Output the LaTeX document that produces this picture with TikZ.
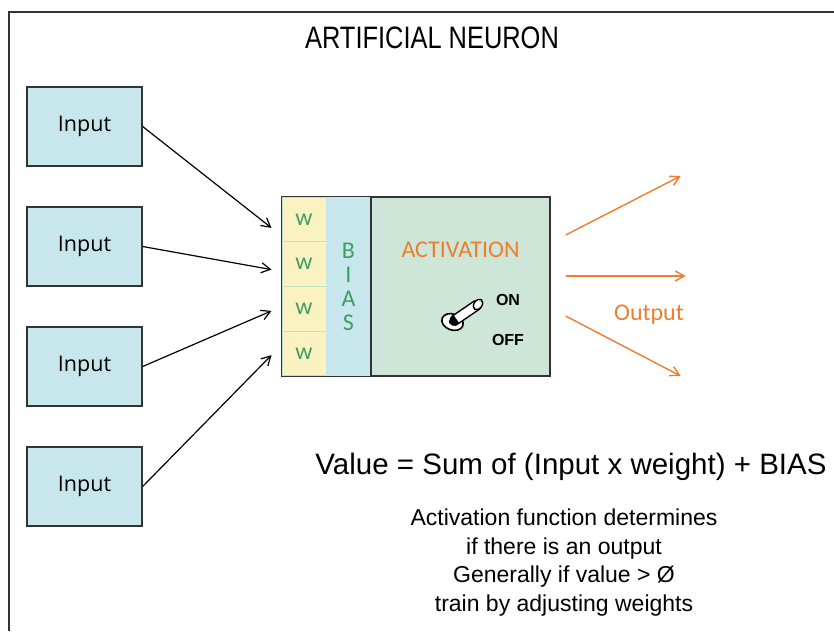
\documentclass[tikz,border=0pt]{standalone}
\usepackage{fontspec}
\setmainfont{Liberation Sans}
\newfontfamily\titlefont[FakeStretch=0.82]{Liberation Sans}
\newfontfamily\calib{Carlito}
\newfontfamily\opens{Open Sans}
\usetikzlibrary{arrows.meta,positioning,calc}
\definecolor{ink}{HTML}{333333}
\definecolor{incyan}{HTML}{C8E7EC}
\definecolor{wyellow}{HTML}{FBF2C1}
\definecolor{actgreen}{HTML}{CDE6D7}
\definecolor{divgreen}{HTML}{BFE2C6}
\definecolor{leafgreen}{HTML}{3E9E63}
\definecolor{orng}{HTML}{EE7D2D}
\tikzset{
  inbox/.style={draw=ink,line width=1.3pt,fill=incyan,minimum width=115pt,minimum height=79pt,inner sep=0pt,font=\opens\fontsize{21.5}{24}\selectfont,text=black},
  wcell/.style={draw=divgreen,line width=1pt,fill=wyellow,minimum width=44pt,minimum height=44.75pt,inner sep=0pt,font=\calib\fontsize{24}{24}\selectfont,text=leafgreen},
  biascol/.style={fill=incyan,minimum width=45pt,minimum height=179pt,inner sep=0pt,align=center,font=\calib\fontsize{24}{24}\selectfont,text=leafgreen},
  actbox/.style={draw=ink,line width=1.3pt,fill=actgreen,minimum width=179pt,minimum height=179pt,inner sep=0pt},
  plain/.style={align=center,text=black},
  orlbl/.style={font=\calib\fontsize{24}{27}\selectfont,text=orng},
  sw/.style={font=\bfseries\fontsize{16}{18}\selectfont,text=black},
  ar/.style={-{Straight Barb[length=9pt,width=10pt]},draw=black,line width=1.2pt},
  aro/.style={-{Straight Barb[length=9pt,width=10pt]},draw=orng,line width=1.4pt},
}
\begin{document}
\begin{tikzpicture}[x=1pt,y=-1pt]
  \useasboundingbox (0,0) rectangle (834,631);
  % ── frame ──
  \draw[line width=2.5pt,ink] (9,631) -- (9,12) -- (834,12);
  \node[plain,font=\titlefont\fontsize{31}{36}\selectfont] (title) at (432,38) {ARTIFICIAL NEURON};

  % ── inputs ──
  \foreach \i/\y in {1/126.5,2/246.5,3/366.5,4/486.5}
    \node[inbox] (in\i) at (84.5,\y) {Input};

  % ── weights, bias, activation ──
  \foreach \i/\y in {1/219.4,2/264.1,3/308.9,4/353.6}
    \node[wcell] (w\i) at (304,\y) {w};
  \node[biascol] (bias) at (348.5,286.5) {B\\I\\A\\S};
  \node[actbox] (act) at (460.5,286.5) {};
  \draw[ink,line width=1.3pt] (w1.north west) rectangle (act.south east);
  \node[orlbl] (actlbl) at (460.5,250) {ACTIVATION};

  % switch
  \begin{scope}
    \draw[black,line width=1.6pt,fill=white,rotate around={-20:(452.5,322)}] (452.5,322) ellipse (11pt and 8pt);
    \fill[black,rotate around={-20:(453.5,322.5)}] (453.5,322.5) ellipse (5pt and 3.2pt);
    \draw[black,line width=11pt,line cap=round] (455,320) -- (477,305);
    \draw[white,line width=8pt,line cap=butt] (456.5,319) -- (477,305);
    \draw[black,line width=1.4pt,fill=white,rotate around={-35:(478,304.5)}] (478,304.5) ellipse (4pt and 5.8pt);
  \end{scope}
  \node[sw] (on) at (508,300) {ON};
  \node[sw] (off) at (508,340) {OFF};

  % ── connectors in ──
  \draw[ar] (in1.east) -- ([shift={(-10,8.5)}]w1.west);
  \draw[ar] (in2.east) -- ([shift={(-10,5.5)}]w2.west);
  \draw[ar] (in3.east) -- ([shift={(-10,2)}]w3.west);
  \draw[ar] (in4.east) -- ([shift={(-10,1.5)}]w4.west);

  % ── outputs ──
  \coordinate (out1) at ($(act.east)+(130,-110.5)$);
  \coordinate (out2) at ($(act.east)+(135,-10.5)$);
  \coordinate (out3) at ($(act.east)+(130,89.5)$);
  \draw[aro] ($(act.east)+(15,-51.5)$) -- (out1);
  \draw[aro] ($(act.east)+(15,-10.5)$) -- (out2);
  \draw[aro] ($(act.east)+(15,29.5)$) -- (out3);
  \node[orlbl] (outlbl) at (649,315) {Output};

  % ── notes ──
  \node[plain,font=\fontsize{29.5}{32}\selectfont] (value) at (571,467) {Value = Sum of (Input x weight) + BIAS};
  \node[plain,font=\fontsize{23}{28.5}\selectfont] (notes) at (564,562.5) {Activation function determines\\if there is an output\\Generally if value > Ø\\train by adjusting weights};
\end{tikzpicture}
\end{document}
